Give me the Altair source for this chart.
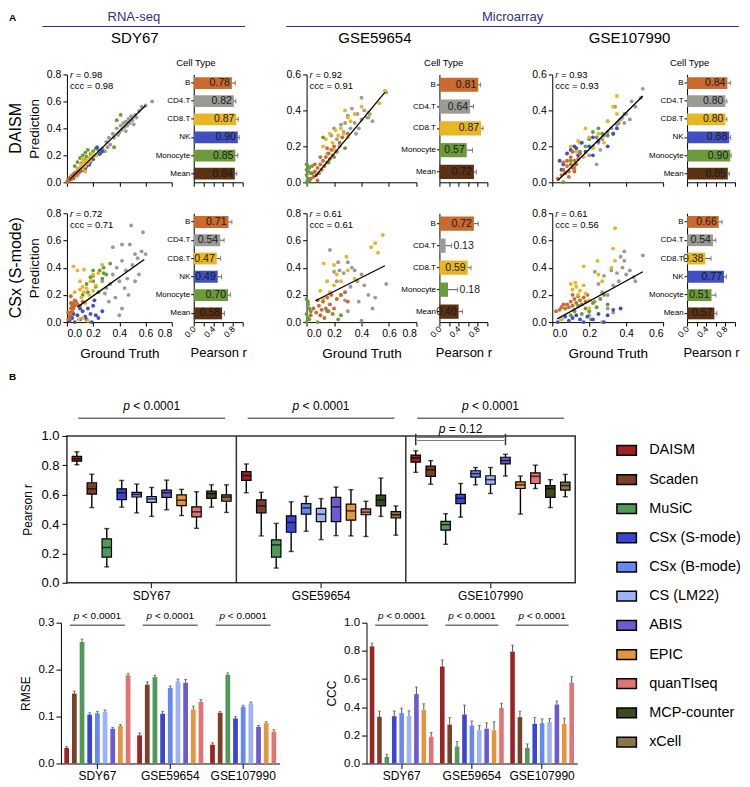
import altair as alt
import pandas as pd

FONT = "Liberation Sans"

# ---------------- categories, colours, ticks ----------------
CELLS = ["B", "CD4.T", "CD8.T", "NK", "Monocyte", "Mean"]
CELLS_NO_NK = ["B", "CD4.T", "CD8.T", "Monocyte", "Mean"]
CELL_COLORS = ["#C96A2E", "#9B9B96", "#E8B624", "#3F50C0", "#6A9B3B", "#5B3113"]

DATASETS = ["SDY67", "GSE59654", "GSE107990"]
METHODS = ["DAISM", "Scaden", "MuSiC", "CSx (S-mode)", "CSx (B-mode)", "CS (LM22)",
           "ABIS", "EPIC", "quanTIseq", "MCP-counter", "xCell"]
METHOD_COLORS = ["#9C2321", "#7A4128", "#4F9A5B", "#3C45D2", "#6688F2", "#9DB3F6",
                 "#6B5AD2", "#E5963A", "#E07474", "#3A4A1E", "#8B7448"]
METRIC_METHODS = METHODS[:9]

TICKS_03 = [0.0, 0.1, 0.2, 0.3]
TICKS_06 = [0.0, 0.2, 0.4, 0.6]
TICKS_08 = [0.0, 0.2, 0.4, 0.6, 0.8]
TICKS_10 = [0.0, 0.2, 0.4, 0.6, 0.8, 1.0]

# ---------------- Panel A: scatter points (ground truth, prediction) ----------------
DAISM_SDY67_B = [(0.00, 0.00), (0.01, 0.01), (0.01, 0.02), (0.02, 0.02), (0.02, 0.03), (0.03, 0.02), (0.03, 0.04),
                 (0.04, 0.03), (0.04, 0.05), (0.05, 0.04), (0.05, 0.06), (0.06, 0.05), (0.06, 0.07), (0.07, 0.06),
                 (0.08, 0.08), (0.09, 0.07), (0.03, 0.03), (0.10, 0.09)]
DAISM_SDY67_CD4 = [(0.27, 0.25), (0.29, 0.23), (0.30, 0.30), (0.32, 0.33), (0.33, 0.28), (0.35, 0.36), (0.36, 0.33),
                   (0.38, 0.40), (0.40, 0.37), (0.41, 0.42), (0.42, 0.39), (0.43, 0.44), (0.44, 0.41), (0.45, 0.45),
                   (0.46, 0.42), (0.47, 0.47), (0.48, 0.44), (0.49, 0.49), (0.50, 0.46), (0.52, 0.50), (0.53, 0.48),
                   (0.55, 0.53), (0.57, 0.56), (0.60, 0.57), (0.65, 0.60), (0.45, 0.38), (0.39, 0.35), (0.51, 0.43),
                   (0.31, 0.26)]
DAISM_SDY67_CD8 = [(0.06, 0.06), (0.08, 0.10), (0.09, 0.07), (0.10, 0.11), (0.11, 0.13), (0.12, 0.10), (0.13, 0.15),
                   (0.14, 0.12), (0.15, 0.16), (0.16, 0.14), (0.17, 0.18), (0.18, 0.16), (0.19, 0.21), (0.20, 0.19),
                   (0.12, 0.17), (0.08, 0.05), (0.22, 0.20), (0.14, 0.08)]
DAISM_SDY67_NK = [(0.05, 0.03), (0.06, 0.06), (0.08, 0.05), (0.10, 0.08), (0.12, 0.09), (0.14, 0.10), (0.15, 0.12),
                  (0.18, 0.15), (0.20, 0.17), (0.22, 0.20), (0.23, 0.26), (0.25, 0.21), (0.27, 0.23), (0.17, 0.13)]
DAISM_SDY67_MONO = [(0.06, 0.12), (0.08, 0.15), (0.10, 0.18), (0.11, 0.14), (0.12, 0.20), (0.13, 0.17), (0.14, 0.22),
                    (0.15, 0.19), (0.16, 0.24), (0.18, 0.21), (0.20, 0.23), (0.22, 0.25), (0.24, 0.24), (0.26, 0.22),
                    (0.36, 0.26), (0.38, 0.46), (0.41, 0.50)]

DAISM_GSE59654_B = [(0.03, 0.02), (0.04, 0.05), (0.05, 0.03), (0.06, 0.06), (0.07, 0.04), (0.08, 0.08), (0.09, 0.05),
                    (0.10, 0.10), (0.11, 0.07), (0.12, 0.12), (0.13, 0.09), (0.14, 0.14), (0.15, 0.11), (0.16, 0.16),
                    (0.17, 0.13), (0.18, 0.18), (0.19, 0.15), (0.20, 0.20), (0.22, 0.17), (0.24, 0.22), (0.26, 0.25),
                    (0.10, 0.14), (0.15, 0.19), (0.06, 0.10), (0.08, 0.01), (0.30, 0.27)]
DAISM_GSE59654_CD4 = [(0.18, 0.26), (0.20, 0.30), (0.22, 0.24), (0.25, 0.32), (0.27, 0.28), (0.30, 0.37), (0.32, 0.30),
                      (0.33, 0.41), (0.35, 0.33), (0.37, 0.38), (0.38, 0.30), (0.40, 0.47), (0.40, 0.35), (0.42, 0.40),
                      (0.44, 0.36), (0.45, 0.36), (0.46, 0.38), (0.48, 0.34), (0.28, 0.33), (0.58, 0.50), (0.36, 0.27),
                      (0.24, 0.20)]
DAISM_GSE59654_CD8 = [(0.12, 0.20), (0.14, 0.24), (0.17, 0.27), (0.19, 0.22), (0.21, 0.29), (0.23, 0.26), (0.25, 0.30),
                      (0.27, 0.27), (0.30, 0.36), (0.32, 0.34), (0.35, 0.38), (0.28, 0.40), (0.40, 0.42), (0.45, 0.39),
                      (0.53, 0.44), (0.57, 0.51), (0.20, 0.18), (0.30, 0.25), (0.15, 0.16)]
DAISM_GSE59654_MONO = [(0.00, 0.00), (0.01, 0.02), (0.00, 0.04), (0.01, 0.06), (0.02, 0.08), (0.00, 0.10), (0.02, 0.01),
                       (0.01, 0.09), (0.03, 0.05), (0.00, 0.07), (0.12, 0.25), (0.20, 0.14), (0.28, 0.19), (0.16, 0.11),
                       (0.04, 0.09)]

DAISM_GSE107990_B = [(0.03, 0.02), (0.05, 0.04), (0.06, 0.07), (0.07, 0.05), (0.08, 0.09), (0.09, 0.06), (0.10, 0.10),
                     (0.11, 0.08), (0.12, 0.12), (0.13, 0.10), (0.10, 0.14), (0.08, 0.12), (0.14, 0.13), (0.06, 0.11),
                     (0.12, 0.06), (0.09, 0.03), (0.15, 0.16), (0.11, 0.17)]
DAISM_GSE107990_CD4 = [(0.20, 0.15), (0.22, 0.20), (0.24, 0.10), (0.25, 0.22), (0.27, 0.24), (0.28, 0.26), (0.30, 0.28),
                       (0.32, 0.30), (0.33, 0.27), (0.35, 0.32), (0.36, 0.33), (0.37, 0.35), (0.38, 0.36), (0.39, 0.38),
                       (0.40, 0.38), (0.42, 0.35), (0.43, 0.45), (0.45, 0.42), (0.48, 0.47), (0.49, 0.52), (0.30, 0.34),
                       (0.34, 0.42), (0.39, 0.33), (0.26, 0.18)]
DAISM_GSE107990_CD8 = [(0.10, 0.20), (0.13, 0.17), (0.14, 0.23), (0.15, 0.22), (0.17, 0.14), (0.20, 0.25), (0.22, 0.19),
                       (0.25, 0.27), (0.28, 0.22), (0.30, 0.34), (0.35, 0.38), (0.35, 0.48), (0.12, 0.10), (0.18, 0.30),
                       (0.33, 0.42)]
DAISM_GSE107990_NK = [(0.04, 0.12), (0.05, 0.07), (0.06, 0.10), (0.08, 0.16), (0.10, 0.18), (0.12, 0.20), (0.13, 0.19),
                      (0.14, 0.15), (0.16, 0.22), (0.18, 0.17), (0.20, 0.20), (0.22, 0.15), (0.22, 0.25), (0.25, 0.23),
                      (0.30, 0.20), (0.33, 0.27), (0.35, 0.30)]
DAISM_GSE107990_MONO = [(0.06, 0.00), (0.07, 0.05), (0.10, 0.12), (0.12, 0.08), (0.15, 0.17), (0.18, 0.20), (0.20, 0.24),
                        (0.22, 0.28), (0.25, 0.30), (0.27, 0.27), (0.30, 0.26), (0.24, 0.25)]

CSX_SDY67_B = [(0.01, 0.02), (0.02, 0.04), (0.02, 0.07), (0.03, 0.10), (0.03, 0.05), (0.04, 0.12), (0.04, 0.08),
               (0.05, 0.14), (0.05, 0.10), (0.06, 0.16), (0.06, 0.12), (0.07, 0.15), (0.08, 0.13), (0.03, 0.19),
               (0.03, 0.14), (0.01, 0.07), (0.10, 0.12), (0.12, 0.15)]
CSX_SDY67_CD4 = [(0.27, 0.30), (0.29, 0.21), (0.30, 0.25), (0.33, 0.28), (0.35, 0.35), (0.32, 0.15), (0.37, 0.18),
                 (0.38, 0.40), (0.40, 0.30), (0.42, 0.10), (0.42, 0.45), (0.44, 0.25), (0.45, 0.38), (0.47, 0.20),
                 (0.49, 0.71), (0.50, 0.42), (0.52, 0.50), (0.54, 0.47), (0.55, 0.35), (0.57, 0.52), (0.58, 0.66),
                 (0.60, 0.50), (0.42, 0.57), (0.48, 0.57), (0.35, 0.55), (0.46, 0.32), (0.52, 0.30), (0.40, 0.05)]
CSX_SDY67_CD8 = [(0.05, 0.41), (0.08, 0.38), (0.13, 0.385), (0.10, 0.30), (0.12, 0.26), (0.10, 0.24), (0.13, 0.22),
                 (0.15, 0.25), (0.17, 0.20), (0.18, 0.30), (0.20, 0.23), (0.22, 0.27), (0.27, 0.42), (0.24, 0.36),
                 (0.11, 0.18), (0.14, 0.14), (0.09, 0.02), (0.12, 0.03), (0.16, 0.01), (0.06, 0.22), (0.20, 0.35)]
CSX_SDY67_NK = [(0.02, 0.01), (0.04, 0.03), (0.06, 0.00), (0.08, 0.05), (0.10, 0.02), (0.12, 0.08), (0.14, 0.04),
                (0.16, 0.10), (0.18, 0.06), (0.20, 0.12), (0.22, 0.05), (0.24, 0.03), (0.10, 0.10), (0.05, 0.06),
                (0.15, 0.02), (0.19, 0.00), (0.27, 0.08), (0.21, 0.16)]
CSX_SDY67_MONO = [(0.12, 0.20), (0.15, 0.28), (0.18, 0.33), (0.20, 0.34), (0.20, 0.30), (0.22, 0.26), (0.25, 0.38),
                  (0.27, 0.32), (0.28, 0.36), (0.30, 0.35), (0.33, 0.43), (0.20, 0.38), (0.16, 0.22), (0.24, 0.22),
                  (0.28, 0.40)]

CSX_GSE59654_B = [(0.03, 0.05), (0.05, 0.10), (0.07, 0.07), (0.09, 0.12), (0.10, 0.05), (0.12, 0.15), (0.14, 0.10),
                  (0.15, 0.18), (0.17, 0.13), (0.18, 0.20), (0.20, 0.10), (0.22, 0.17), (0.25, 0.20), (0.28, 0.22),
                  (0.30, 0.15), (0.13, 0.03), (0.08, 0.16), (0.19, 0.06), (0.11, 0.09), (0.16, 0.08)]
CSX_GSE59654_CD4 = [(0.17, 0.53), (0.20, 0.37), (0.22, 0.30), (0.24, 0.38), (0.25, 0.20), (0.27, 0.36), (0.30, 0.44),
                    (0.32, 0.26), (0.33, 0.40), (0.35, 0.38), (0.37, 0.30), (0.38, 0.15), (0.40, 0.35), (0.42, 0.27),
                    (0.45, 0.20), (0.48, 0.10), (0.50, 0.18), (0.58, 0.28), (0.40, 0.01), (0.30, 0.08), (0.28, 0.16),
                    (0.23, 0.44)]
CSX_GSE59654_CD8 = [(0.10, 0.23), (0.12, 0.17), (0.125, 0.43), (0.15, 0.30), (0.17, 0.22), (0.20, 0.27), (0.22, 0.35),
                    (0.25, 0.30), (0.29, 0.48), (0.30, 0.38), (0.35, 0.32), (0.47, 0.55), (0.50, 0.58), (0.52, 0.51),
                    (0.555, 0.64), (0.20, 0.42)]
CSX_GSE59654_MONO = [(0.00, 0.00), (0.01, 0.03), (0.00, 0.06), (0.02, 0.10), (0.01, 0.13), (0.00, 0.17), (0.03, 0.08),
                     (0.02, 0.02), (0.23, 0.02), (0.25, 0.05), (0.15, 0.08), (0.08, 0.00), (0.01, 0.15)]

CSX_GSE107990_B = [(0.02, 0.08), (0.04, 0.09), (0.05, 0.11), (0.07, 0.10), (0.08, 0.13), (0.09, 0.11), (0.10, 0.15),
                   (0.11, 0.12), (0.12, 0.17), (0.13, 0.14), (0.14, 0.19), (0.15, 0.16), (0.16, 0.13), (0.17, 0.18),
                   (0.18, 0.15), (0.19, 0.20), (0.11, 0.20), (0.06, 0.13), (0.12, 0.09)]
CSX_GSE107990_CD4 = [(0.20, 0.05), (0.23, 0.15), (0.23, 0.37), (0.25, 0.28), (0.27, 0.22), (0.28, 0.34), (0.30, 0.20),
                     (0.32, 0.38), (0.33, 0.27), (0.35, 0.36), (0.36, 0.30), (0.37, 0.48), (0.38, 0.40), (0.40, 0.35),
                     (0.39, 0.52), (0.42, 0.38), (0.44, 0.33), (0.45, 0.30), (0.49, 0.49), (0.33, 0.07), (0.27, 0.00),
                     (0.30, 0.10), (0.39, 0.45)]
CSX_GSE107990_CD8 = [(0.05, 0.02), (0.10, 0.28), (0.11, 0.24), (0.125, 0.29), (0.13, 0.26), (0.14, 0.20), (0.15, 0.23),
                     (0.17, 0.41), (0.18, 0.21), (0.20, 0.16), (0.245, 0.45), (0.25, 0.35), (0.27, 0.30), (0.33, 0.54),
                     (0.32, 0.40), (0.34, 0.69), (0.34, 0.45), (0.20, 0.10), (0.17, 0.27)]
CSX_GSE107990_NK = [(0.03, 0.00), (0.05, 0.02), (0.07, 0.04), (0.09, 0.01), (0.11, 0.03), (0.13, 0.05), (0.15, 0.02),
                    (0.17, 0.00), (0.19, 0.04), (0.22, 0.02), (0.25, 0.06), (0.30, 0.05), (0.33, 0.09), (0.37, 0.10),
                    (0.28, 0.00)]
CSX_GSE107990_MONO = [(0.10, 0.05), (0.12, 0.08), (0.14, 0.12), (0.16, 0.06), (0.18, 0.10), (0.20, 0.08), (0.22, 0.14),
                      (0.24, 0.11), (0.26, 0.17), (0.28, 0.20), (0.30, 0.13), (0.21, 0.02)]

# fitted line end points [x0, x1], [y0, y1] and (r, ccc)
FIT_DAISM_SDY67 = ([0.02, 0.60], [0.02, 0.57]);  STAT_DAISM_SDY67 = (0.98, 0.98)
FIT_DAISM_GSE59654 = ([0.06, 0.57], [0.03, 0.50]);  STAT_DAISM_GSE59654 = (0.92, 0.91)
FIT_DAISM_GSE107990 = ([0.03, 0.49], [0.01, 0.48]);  STAT_DAISM_GSE107990 = (0.93, 0.93)
FIT_CSX_SDY67 = ([0.08, 0.59], [0.11, 0.46]);  STAT_CSX_SDY67 = (0.72, 0.71)
FIT_CSX_GSE59654 = ([0.065, 0.57], [0.157, 0.414]);  STAT_CSX_GSE59654 = (0.61, 0.61)
FIT_CSX_GSE107990 = ([0.027, 0.49], [0.024, 0.37]);  STAT_CSX_GSE107990 = (0.61, 0.56)

# per-cell-type Pearson r (bar) and error
DAISM_SDY67_R = [0.78, 0.82, 0.87, 0.90, 0.85, 0.84]
DAISM_SDY67_E = [0.07, 0.04, 0.04, 0.03, 0.05, 0.04]
DAISM_GSE59654_R = [0.81, 0.64, 0.87, 0.57, 0.72]
DAISM_GSE59654_E = [0.05, 0.07, 0.04, 0.12, 0.05]
DAISM_GSE107990_R = [0.84, 0.80, 0.80, 0.88, 0.90, 0.85]
DAISM_GSE107990_E = [0.07, 0.03, 0.03, 0.03, 0.02, 0.03]
CSX_SDY67_R = [0.71, 0.54, 0.47, 0.49, 0.70, 0.58]
CSX_SDY67_E = [0.07, 0.08, 0.08, 0.08, 0.05, 0.05]
CSX_GSE59654_R = [0.72, 0.13, 0.59, 0.18, 0.40]
CSX_GSE59654_E = [0.09, 0.12, 0.07, 0.20, 0.08]
CSX_GSE107990_R = [0.66, 0.54, 0.38, 0.77, 0.51, 0.57]
CSX_GSE107990_E = [0.07, 0.06, 0.12, 0.05, 0.09, 0.05]

# ---------------- Panel B: box statistics (whisker min, q1, median, q3, whisker max) ----------------
SDY67_WMAX = [0.892, 0.739, 0.369, 0.697, 0.672, 0.649, 0.699, 0.636, 0.620, 0.667, 0.667]
SDY67_Q3 = [0.861, 0.681, 0.299, 0.640, 0.616, 0.587, 0.631, 0.598, 0.517, 0.625, 0.598]
SDY67_MED = [0.845, 0.640, 0.240, 0.613, 0.602, 0.571, 0.613, 0.562, 0.483, 0.607, 0.584]
SDY67_Q1 = [0.829, 0.604, 0.175, 0.566, 0.584, 0.548, 0.582, 0.526, 0.449, 0.575, 0.555]
SDY67_WMIN = [0.804, 0.512, 0.108, 0.515, 0.476, 0.452, 0.497, 0.458, 0.371, 0.515, 0.479]

GSE59654_WMAX = [0.809, 0.616, 0.404, 0.551, 0.589, 0.573, 0.652, 0.634, 0.555, 0.713, 0.523]
GSE59654_Q3 = [0.757, 0.564, 0.292, 0.456, 0.539, 0.506, 0.582, 0.535, 0.503, 0.597, 0.485]
GSE59654_MED = [0.730, 0.524, 0.258, 0.411, 0.510, 0.467, 0.517, 0.490, 0.481, 0.564, 0.463]
GSE59654_Q1 = [0.697, 0.476, 0.175, 0.344, 0.467, 0.416, 0.416, 0.427, 0.463, 0.523, 0.441]
GSE59654_WMIN = [0.613, 0.319, 0.100, 0.213, 0.351, 0.294, 0.321, 0.319, 0.315, 0.452, 0.324]

GSE107990_WMAX = [0.899, 0.832, 0.470, 0.676, 0.785, 0.785, 0.875, 0.727, 0.801, 0.702, 0.738]
GSE107990_Q3 = [0.870, 0.794, 0.418, 0.602, 0.763, 0.729, 0.855, 0.687, 0.749, 0.662, 0.685]
GSE107990_MED = [0.850, 0.770, 0.396, 0.575, 0.743, 0.702, 0.832, 0.667, 0.725, 0.642, 0.662]
GSE107990_Q1 = [0.821, 0.725, 0.358, 0.539, 0.720, 0.671, 0.810, 0.642, 0.676, 0.582, 0.631]
GSE107990_WMIN = [0.752, 0.671, 0.262, 0.447, 0.667, 0.608, 0.727, 0.468, 0.642, 0.512, 0.586]

# RMSE / CCC (mean and error)
RMSE_SDY67 = [0.033, 0.149, 0.259, 0.104, 0.107, 0.110, 0.074, 0.080, 0.188]
RMSE_SDY67_E = [0.003, 0.005, 0.006, 0.004, 0.004, 0.004, 0.003, 0.003, 0.004]
RMSE_GSE59654 = [0.060, 0.168, 0.184, 0.106, 0.161, 0.175, 0.172, 0.115, 0.131]
RMSE_GSE59654_E = [0.005, 0.006, 0.004, 0.005, 0.004, 0.005, 0.007, 0.007, 0.005]
RMSE_GSE107990 = [0.040, 0.108, 0.189, 0.096, 0.121, 0.128, 0.078, 0.086, 0.068]
RMSE_GSE107990_E = [0.004, 0.003, 0.004, 0.004, 0.003, 0.003, 0.003, 0.003, 0.004]
CCC_SDY67 = [0.832, 0.332, 0.047, 0.336, 0.358, 0.337, 0.493, 0.379, 0.190]
CCC_SDY67_E = [0.023, 0.040, 0.018, 0.037, 0.035, 0.037, 0.050, 0.045, 0.030]
CCC_GSE59654 = [0.689, 0.276, 0.121, 0.348, 0.270, 0.236, 0.247, 0.236, 0.395]
CCC_GSE59654_E = [0.047, 0.050, 0.035, 0.067, 0.032, 0.034, 0.042, 0.060, 0.033]
CCC_GSE107990 = [0.795, 0.329, 0.111, 0.282, 0.287, 0.294, 0.419, 0.282, 0.574]
CCC_GSE107990_E = [0.045, 0.042, 0.028, 0.045, 0.030, 0.026, 0.024, 0.040, 0.042]

# ---------------- layout constants (pixels) ----------------
COL_LAYOUT = [(105, 127, 176), (110, 133, 181), (111, 135, 183)]  # scatter width, bar start, bar end
ROW_H = [108, 109]
BOX_W, BOX_H = 509, 147
MET_W, MET_H = 511, 141

cell_scale = alt.Scale(domain=CELLS, range=CELL_COLORS)
method_scale = alt.Scale(domain=METHODS, range=METHOD_COLORS)
one = pd.DataFrame({"k": [0]})


def scatter_df(groups):
    rows = []
    for cell, pts in groups:
        for gx, gy in pts:
            rows.append({"cell": cell, "gt": gx, "pred": gy})
    return pd.DataFrame(rows)


def make_panel(groups, fit, stat, cells, vals, errs, col, row, xt, yt, row_title):
    sc_w, b0, b1 = COL_LAYOUT[col]
    h = ROW_H[row]
    bottom = row == 1
    xs = alt.Scale(domain=[0, xt[-1]], range=[0, sc_w], nice=False)
    ys = alt.Scale(domain=[0, yt[-1]], nice=False)
    xax = alt.Axis(orient="bottom", values=xt, format=".1f", labels=bottom,
                   title="Ground Truth" if bottom else None, titleFontSize=13.5, titleY=24,
                   titleBaseline="top", labelFontSize=10.5, tickSize=4, labelPadding=2)
    yax = alt.Axis(orient="left", values=yt, format=".1f", title="Prediction" if col == 0 else None,
                   titleFontSize=13.5, labelFontSize=10.5, tickSize=4, labelPadding=2, titlePadding=5)
    X = alt.X("gt:Q", scale=xs, axis=xax)
    Y = alt.Y("pred:Q", scale=ys, axis=yax)
    color = alt.Color("cell:N", scale=cell_scale, legend=None)
    pts = alt.Chart(scatter_df(groups)).mark_circle(size=15, opacity=1).encode(x=X, y=Y, color=color)
    line = alt.Chart(pd.DataFrame({"gt": fit[0], "pred": fit[1]})).mark_line(
        color="black", strokeWidth=1.3).encode(x=X, y=Y)
    r_i = alt.Chart(one).mark_text(text="r", fontStyle="italic", align="left", baseline="middle",
                                   fontSize=9.5).encode(x=alt.value(3), y=alt.value(1))
    r_v = alt.Chart(one).mark_text(text=f"= {stat[0]:.2f}", align="left", baseline="middle",
                                   fontSize=9.5).encode(x=alt.value(8.8), y=alt.value(1))
    c_v = alt.Chart(one).mark_text(text=f"ccc = {stat[1]:.2f}", align="left", baseline="middle",
                                   fontSize=9.5).encode(x=alt.value(3), y=alt.value(12))
    sc = alt.layer(pts, line, r_i, r_v, c_v)

    bdf = pd.DataFrame({"cell": cells, "r": vals, "e": errs})
    bxs = alt.Scale(domain=[0, 1], range=[b0, b1], nice=False)
    bxax = alt.Axis(orient="bottom", values=TICKS_10, format=".1f", labels=bottom, labelAngle=-45,
                    labelAlign="right", labelBaseline="middle", labelFontSize=8.5, labelPadding=1,
                    tickSize=4, title="Pearson r" if bottom else None, titleFontSize=13,
                    titleY=24, titleBaseline="top")

    def XB(f):
        return alt.X(f, scale=bxs, axis=bxax)

    YB = alt.Y("cell:N", sort=cells, scale=alt.Scale(domain=cells, paddingInner=0.35, paddingOuter=0.15),
               axis=alt.Axis(orient="left", offset=-b0, title=None, labelFontSize=8, tickSize=3,
                             labelPadding=1))
    base = alt.Chart(bdf).transform_calculate(hi="datum.r + datum.e")
    bars = base.mark_bar().encode(x=XB("r:Q"), y=YB, color=color)
    err = base.mark_rule(color="#555", strokeWidth=1).encode(x=XB("r:Q"), x2="hi:Q", y=YB)
    cap = base.mark_tick(color="#555", thickness=1, size=5, orient="vertical").encode(x=XB("hi:Q"), y=YB)
    lab_in = base.transform_filter("datum.r >= 0.3").mark_text(
        align="right", dx=-2, fontSize=10.5, baseline="middle", color="#1a1a1a").encode(
        x=XB("r:Q"), y=YB, text=alt.Text("r:Q", format=".2f"))
    lab_out = base.transform_filter("datum.r < 0.3").mark_text(
        align="left", dx=2, fontSize=10.5, baseline="middle", color="#1a1a1a").encode(
        x=XB("hi:Q"), y=YB, text=alt.Text("r:Q", format=".2f"))
    br = alt.layer(bars, err, cap, lab_in, lab_out)

    p = alt.layer(sc, br).resolve_scale(x="independent", y="independent").properties(width=b1, height=h)
    if row_title:
        p = p.properties(title=alt.TitleParams(row_title, orient="left", fontSize=16, fontWeight="normal",
                                               anchor="middle", offset=3, color="black"))
    return p


cols = []
panel_defs = [
    (  # SDY67
        [("CD4.T", DAISM_SDY67_CD4), ("Monocyte", DAISM_SDY67_MONO), ("NK", DAISM_SDY67_NK),
         ("CD8.T", DAISM_SDY67_CD8), ("B", DAISM_SDY67_B)], FIT_DAISM_SDY67, STAT_DAISM_SDY67, CELLS,
        DAISM_SDY67_R, DAISM_SDY67_E, TICKS_08, TICKS_08,
        [("CD4.T", CSX_SDY67_CD4), ("Monocyte", CSX_SDY67_MONO), ("NK", CSX_SDY67_NK),
         ("CD8.T", CSX_SDY67_CD8), ("B", CSX_SDY67_B)], FIT_CSX_SDY67, STAT_CSX_SDY67, CELLS,
        CSX_SDY67_R, CSX_SDY67_E, TICKS_08, TICKS_08),
    (  # GSE59654
        [("CD4.T", DAISM_GSE59654_CD4), ("CD8.T", DAISM_GSE59654_CD8), ("B", DAISM_GSE59654_B),
         ("Monocyte", DAISM_GSE59654_MONO)], FIT_DAISM_GSE59654, STAT_DAISM_GSE59654, CELLS_NO_NK,
        DAISM_GSE59654_R, DAISM_GSE59654_E, TICKS_08, TICKS_06,
        [("CD4.T", CSX_GSE59654_CD4), ("CD8.T", CSX_GSE59654_CD8), ("B", CSX_GSE59654_B),
         ("Monocyte", CSX_GSE59654_MONO)], FIT_CSX_GSE59654, STAT_CSX_GSE59654, CELLS_NO_NK,
        CSX_GSE59654_R, CSX_GSE59654_E, TICKS_08, TICKS_08),
    (  # GSE107990
        [("CD4.T", DAISM_GSE107990_CD4), ("Monocyte", DAISM_GSE107990_MONO), ("CD8.T", DAISM_GSE107990_CD8),
         ("NK", DAISM_GSE107990_NK), ("B", DAISM_GSE107990_B)], FIT_DAISM_GSE107990, STAT_DAISM_GSE107990,
        CELLS, DAISM_GSE107990_R, DAISM_GSE107990_E, TICKS_06, TICKS_06,
        [("CD4.T", CSX_GSE107990_CD4), ("Monocyte", CSX_GSE107990_MONO), ("NK", CSX_GSE107990_NK),
         ("B", CSX_GSE107990_B), ("CD8.T", CSX_GSE107990_CD8)], FIT_CSX_GSE107990, STAT_CSX_GSE107990,
        CELLS, CSX_GSE107990_R, CSX_GSE107990_E, TICKS_06, TICKS_08),
]
for ci, d in enumerate(panel_defs):
    p1 = make_panel(d[0], d[1], d[2], d[3], d[4], d[5], ci, 0, d[6], d[7], "DAISM" if ci == 0 else None)
    p2 = make_panel(d[8], d[9], d[10], d[11], d[12], d[13], ci, 1, d[14], d[15],
                    "CSx (S-mode)" if ci == 0 else None)
    cols.append(alt.vconcat(p1, p2, spacing=31, bounds="flush"))
top = alt.hconcat(*cols, spacing=39)

# ---------------- header (decorative titles, relative to first panel origin) ----------------
NAVY = "#2E2E96"


def htext(text, x, y, size, color="black", weight="normal", align="center"):
    return alt.Chart(one).mark_text(text=text, fontSize=size, color=color, fontWeight=weight, align=align,
                                    baseline="middle").encode(x=alt.value(x), y=alt.value(y))


def hline(x1, x2, y):
    return alt.Chart(one).mark_rule(color=NAVY, strokeWidth=1.2).encode(
        x=alt.value(x1), x2=alt.value(x2), y=alt.value(y))


header = alt.layer(
    htext("A", -58, 7, 10, weight="bold", align="left"),
    htext("RNA-seq", 67, 6, 13, color=NAVY),
    hline(-24.6, 178.4, 16),
    htext("Microarray", 446.3, 6, 13, color=NAVY),
    hline(219.7, 672.8, 16),
    htext("SDY67", 68, 28, 15),
    htext("GSE59654", 308.4, 28, 15),
    htext("GSE107990", 563.5, 28, 15),
    htext("Cell Type", 129.1, 53, 9.5),
    htext("Cell Type", 377.3, 53, 9.5),
    htext("Cell Type", 623.6, 53, 9.5),
).properties(width=600, height=1)

# ---------------- Panel B: box plot ----------------
box_rows = []
for ds, wmin, q1, med, q3, wmax in [
    ("SDY67", SDY67_WMIN, SDY67_Q1, SDY67_MED, SDY67_Q3, SDY67_WMAX),
    ("GSE59654", GSE59654_WMIN, GSE59654_Q1, GSE59654_MED, GSE59654_Q3, GSE59654_WMAX),
    ("GSE107990", GSE107990_WMIN, GSE107990_Q1, GSE107990_MED, GSE107990_Q3, GSE107990_WMAX),
]:
    for i, m in enumerate(METHODS):
        box_rows.append({"dataset": ds, "method": m, "wmin": wmin[i], "q1": q1[i], "med": med[i],
                         "q3": q3[i], "wmax": wmax[i]})
box_df = pd.DataFrame(box_rows)

bx_scale = alt.Scale(domain=DATASETS, paddingInner=0, paddingOuter=0)
bx_axis = alt.Axis(title=None, domain=False, labelFontSize=12, tickSize=5, labelPadding=3, labelAngle=0)
BX = alt.X("dataset:N", sort=DATASETS, scale=bx_scale, axis=bx_axis)
BXO = alt.XOffset("method:N", sort=METHODS, scale=alt.Scale(domain=METHODS, paddingInner=0.37, paddingOuter=0.35))
by_scale = alt.Scale(domain=[0, 1], nice=False)
by_axis = alt.Axis(values=TICKS_10, format=".1f", title="Pearson r", titleFontSize=12, labelFontSize=13,
                   domain=False, tickSize=5, labelPadding=3, titlePadding=6)


def BY(f):
    return alt.Y(f, scale=by_scale, axis=by_axis)


bbase = alt.Chart(box_df)
whisk = bbase.mark_rule(color="black", strokeWidth=1.4).encode(x=BX, xOffset=BXO, y=BY("wmin:Q"), y2="wmax:Q")
boxes = bbase.mark_bar(stroke="black", strokeWidth=1.2).encode(
    x=BX, xOffset=BXO, y=BY("q1:Q"), y2="q3:Q",
    color=alt.Color("method:N", scale=method_scale, legend=alt.Legend(
        orient="none", legendX=550, legendY=4, title=None, symbolType="M-1,-0.5H1V0.5H-1Z",
        symbolSize=380, symbolStrokeColor="black", symbolStrokeWidth=1.5, symbolOpacity=1,
        labelFontSize=14.5, labelOffset=12, rowPadding=10.2, labelFont=FONT, labelColor="black")))
med = bbase.mark_tick(color="black", thickness=1.5, size=9.4, orient="horizontal").encode(
    x=BX, xOffset=BXO, y=BY("med:Q"))
cap_lo = bbase.mark_tick(color="black", thickness=1.4, size=5, orient="horizontal").encode(
    x=BX, xOffset=BXO, y=BY("wmin:Q"))
cap_hi = bbase.mark_tick(color="black", thickness=1.4, size=5, orient="horizontal").encode(
    x=BX, xOffset=BXO, y=BY("wmax:Q"))
dividers = alt.Chart(pd.DataFrame({"dataset": DATASETS[:2]})).mark_rule(color="#333", strokeWidth=1.5).encode(
    x=alt.X("dataset:N", sort=DATASETS, scale=bx_scale, axis=bx_axis, bandPosition=1),
    y=alt.value(0), y2=alt.value(BOX_H))
ds_df = pd.DataFrame({"dataset": DATASETS})
p_it = alt.Chart(ds_df).mark_text(text="p", fontStyle="italic", align="left", dx=-28.5, fontSize=12,
                                  baseline="middle").encode(x=BX, y=alt.value(-29.5))
p_tx = alt.Chart(ds_df).mark_text(text="< 0.0001", align="left", dx=-18.5, fontSize=12,
                                  baseline="middle").encode(x=BX, y=alt.value(-29.5))
p_ln = alt.Chart(ds_df).mark_tick(orient="horizontal", size=147, thickness=1.6, color="#333").encode(
    x=BX, y=alt.value(-17.7))
brk_ends = alt.Chart(pd.DataFrame({"dataset": ["GSE107990", "GSE107990"], "method": ["DAISM", "ABIS"]})).mark_rule(
    color="#333", strokeWidth=1.5).encode(x=BX, xOffset=BXO, y=alt.value(-2.2), y2=alt.value(9.3))
brk_mid = pd.DataFrame({"dataset": ["GSE107990"], "method": ["CSx (S-mode)"]})
brk_l1 = alt.Chart(brk_mid).mark_tick(orient="horizontal", size=87, thickness=1.1, color="#444").encode(
    x=BX, xOffset=BXO, y=alt.value(1.5))
brk_l2 = alt.Chart(brk_mid).mark_tick(orient="horizontal", size=87, thickness=1.1, color="#444").encode(
    x=BX, xOffset=BXO, y=alt.value(4.5))
b_it = alt.Chart(brk_mid).mark_text(text="p", fontStyle="italic", align="left", dx=-21.8, fontSize=12,
                                    baseline="middle").encode(x=BX, xOffset=BXO, y=alt.value(-7))
b_tx = alt.Chart(brk_mid).mark_text(text="= 0.12", align="left", dx=-11.8, fontSize=12,
                                    baseline="middle").encode(x=BX, xOffset=BXO, y=alt.value(-7))
lab_B = alt.Chart(one).mark_text(text="B", fontWeight="bold", fontSize=10, align="left",
                                 baseline="middle").encode(x=alt.value(-58), y=alt.value(-59))

box = alt.layer(whisk, boxes, med, cap_lo, cap_hi, dividers, p_ln, p_it, p_tx, brk_ends, brk_l1, brk_l2,
                b_it, b_tx, lab_B).properties(
    width=BOX_W, height=BOX_H, view=alt.ViewBackground(stroke="#333", strokeWidth=1.5))


# ---------------- RMSE / CCC bars ----------------
def metric_layer(values, errors, rng, ticks, title, y_off, p_size):
    rows = []
    for ds, vv, ee in zip(DATASETS, values, errors):
        for i, m in enumerate(METRIC_METHODS):
            rows.append({"dataset": ds, "method": m, "v": vv[i], "e": ee[i]})
    mdf = pd.DataFrame(rows)
    MX = alt.X("dataset:N", sort=DATASETS,
               scale=alt.Scale(domain=DATASETS, range=rng, paddingInner=0.04, paddingOuter=0.02),
               axis=alt.Axis(orient="bottom", title=None, labelFontSize=12, tickSize=5, labelPadding=2,
                             labelAngle=0))
    MXO = alt.XOffset("method:N", sort=METRIC_METHODS,
                      scale=alt.Scale(domain=METRIC_METHODS, paddingInner=0.38, paddingOuter=0.25))
    ysc = alt.Scale(domain=[0, ticks[-1]], nice=False)
    yax = alt.Axis(orient="left", offset=y_off, values=ticks, format=".1f", title=title, titleFontSize=12,
                   labelFontSize=11.5, tickSize=5, labelPadding=2, titlePadding=5)

    def MY(f):
        return alt.Y(f, scale=ysc, axis=yax)

    base = alt.Chart(mdf).transform_calculate(hi="datum.v + datum.e")
    bars = base.mark_bar().encode(x=MX, xOffset=MXO, y=MY("v:Q"),
                                  color=alt.Color("method:N", scale=method_scale, legend=None))
    err = base.mark_rule(color="#555", strokeWidth=1).encode(x=MX, xOffset=MXO, y=MY("v:Q"), y2="hi:Q")
    cap = base.mark_tick(color="#555", thickness=1, size=3, orient="horizontal").encode(
        x=MX, xOffset=MXO, y=MY("hi:Q"))
    pi = alt.Chart(ds_df).mark_text(text="p", fontStyle="italic", align="left", dx=-23.75, fontSize=10,
                                    baseline="middle").encode(x=MX, y=alt.value(-7))
    pt = alt.Chart(ds_df).mark_text(text="< 0.0001", align="left", dx=-15.4, fontSize=10,
                                    baseline="middle").encode(x=MX, y=alt.value(-7))
    pl = alt.Chart(ds_df).mark_tick(orient="horizontal", size=p_size, thickness=1.5, color="#333").encode(
        x=MX, y=alt.value(2.5))
    return alt.layer(bars, err, cap, pi, pt, pl)


rmse = metric_layer([RMSE_SDY67, RMSE_GSE59654, RMSE_GSE107990],
                    [RMSE_SDY67_E, RMSE_GSE59654_E, RMSE_GSE107990_E], [-6, 213], TICKS_03, "RMSE", 6, 55)
ccc = metric_layer([CCC_SDY67, CCC_GSE59654, CCC_GSE107990],
                   [CCC_SDY67_E, CCC_GSE59654_E, CCC_GSE107990_E], [300, 511], TICKS_10, "CCC", -300, 53)
metrics = alt.layer(rmse, ccc).resolve_scale(x="independent", y="independent", xOffset="independent").properties(
    width=MET_W, height=MET_H)

lower = alt.vconcat(box, metrics, spacing=40, bounds="flush").resolve_scale(color="independent")

chart = alt.vconcat(alt.vconcat(header, top, spacing=1), lower, spacing=11).resolve_scale(
    color="independent").properties(padding={"left": 0, "top": 2, "right": 0, "bottom": 0})

chart = chart.configure(font=FONT).configure_view(stroke=None).configure_axis(
    labelFont=FONT, titleFont=FONT, domainColor="black", tickColor="black", labelColor="black",
    titleColor="black", grid=False, titleFontWeight="normal", domainWidth=1, tickWidth=1
).configure_text(font=FONT).configure_title(font=FONT)

chart.save("out.html", embed_options={"renderer": "svg", "actions": False})
